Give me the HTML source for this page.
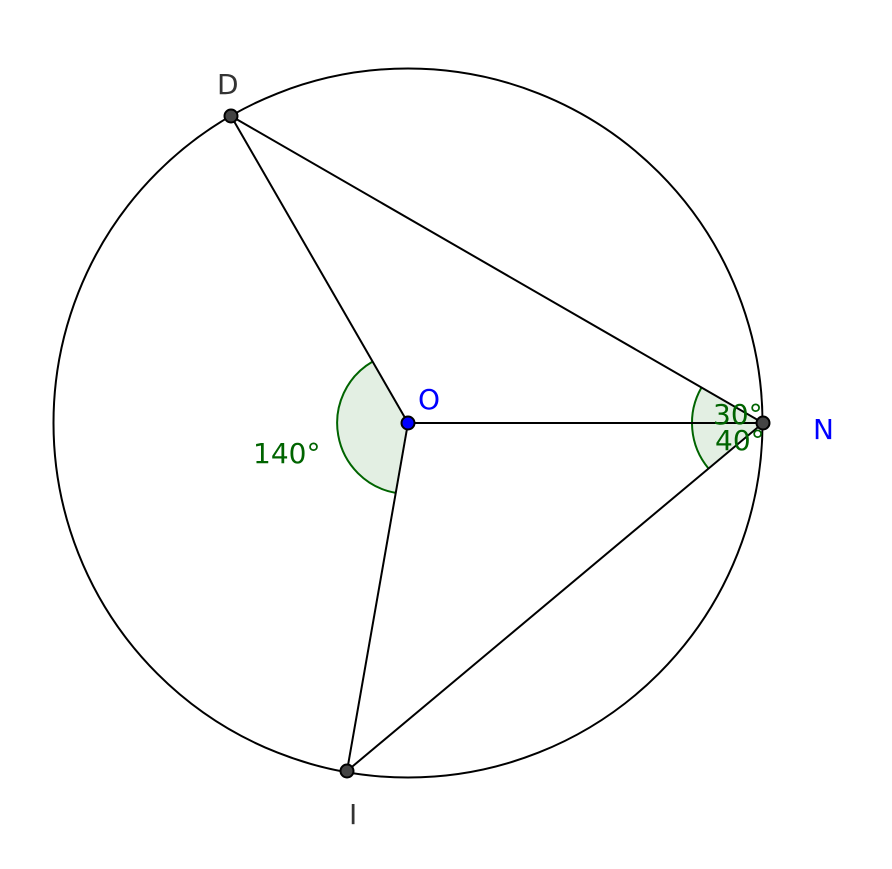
<!DOCTYPE html>
<html><head><meta charset="utf-8"><style>html,body{margin:0;padding:0;background:#fff}svg{display:block}</style></head>
<body>
<svg width="892" height="869" viewBox="0 0 892 869" xmlns="http://www.w3.org/2000/svg" font-family="DejaVu Sans, Liberation Sans, sans-serif" font-size="28">
<rect width="892" height="869" fill="#fff"/>
<path d="M408,423 L372.5,361.6 A71,71 0 0 0 395.7,492.9 Z" fill="#e3efe3" stroke="none"/>
<path d="M372.5,361.6 A71,71 0 0 0 395.7,492.9" fill="none" stroke="#006400" stroke-width="2"/>
<path d="M763,423 L701.5,387.5 A71,71 0 0 0 708.5,468.5 Z" fill="#e3efe3" stroke="none"/>
<path d="M701.5,387.5 A71,71 0 0 0 708.5,468.5" fill="none" stroke="#006400" stroke-width="2"/>
<circle cx="408" cy="423" r="354.5" fill="none" stroke="#000" stroke-width="2"/>
<g stroke="#000" stroke-width="2">
<line x1="231" y1="116" x2="763" y2="423"/>
<line x1="231" y1="116" x2="408" y2="423"/>
<line x1="408" y1="423" x2="763" y2="423"/>
<line x1="408" y1="423" x2="347" y2="771"/>
<line x1="347" y1="771" x2="763" y2="423"/>
</g>
<g fill="#006400">
<text x="253" y="463">140°</text>
<text x="713" y="424">30°</text>
<text x="715" y="450">40°</text>
</g>
<g stroke="#000" stroke-width="2">
<circle cx="231" cy="116" r="6.5" fill="#444"/>
<circle cx="763" cy="423" r="6.5" fill="#444"/>
<circle cx="347" cy="771" r="6.5" fill="#444"/>
<circle cx="408" cy="423" r="6.5" fill="#00f"/>
</g>
<text x="217" y="94" fill="#333">D</text>
<text x="418" y="409" fill="#00f">O</text>
<text x="813" y="439" fill="#00f">N</text>
<text x="349" y="824" fill="#333">I</text>
</svg>
</body></html>
